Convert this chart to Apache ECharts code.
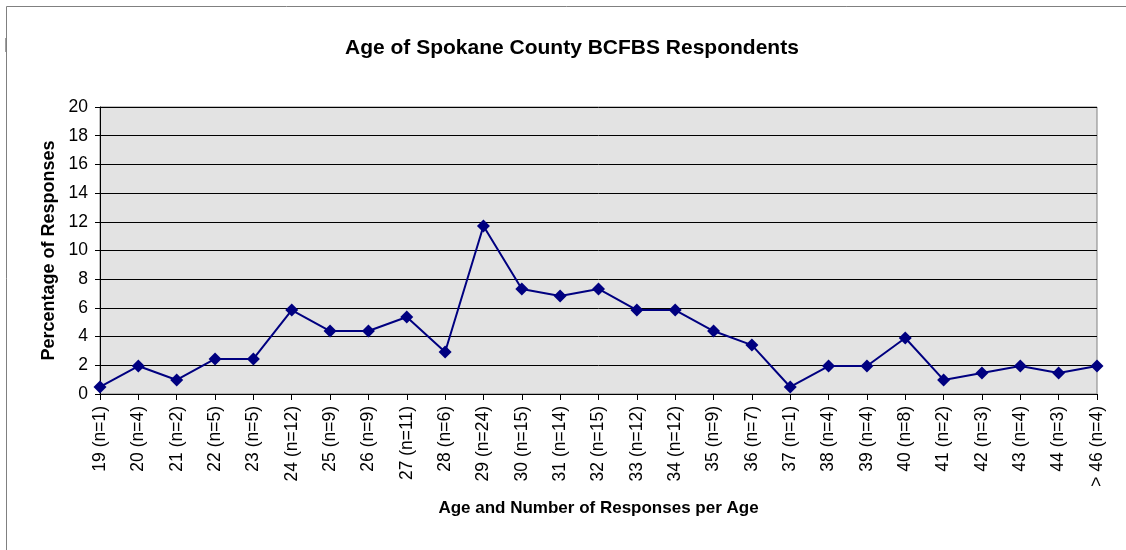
<!DOCTYPE html>
<html><head><meta charset="utf-8">
<script src="https://cdn.jsdelivr.net/npm/echarts@6/dist/echarts.min.js"></script>
<style>html,body{margin:0;padding:0;background:#fff}#c{width:1126px;height:550px}</style>
</head><body><div id="c"></div>
<script>
const categories = ["19 (n=1)","20 (n=4)","21 (n=2)","22 (n=5)","23 (n=5)","24 (n=12)","25 (n=9)","26 (n=9)","27 (n=11)","28 (n=6)","29 (n=24)","30 (n=15)","31 (n=14)","32 (n=15)","33 (n=12)","34 (n=12)","35 (n=9)","36 (n=7)","37 (n=1)","38 (n=4)","39 (n=4)","40 (n=8)","41 (n=2)","42 (n=3)","43 (n=4)","44 (n=3)","> 46 (n=4)"];
const percentages = [0.49,1.95,0.98,2.44,2.44,5.85,4.39,4.39,5.37,2.93,11.71,7.32,6.83,7.32,5.85,5.85,4.39,3.41,0.49,1.95,1.95,3.90,0.98,1.46,1.95,1.46,1.95];
const titleText = "Age of Spokane County BCFBS Respondents";
const xName = "Age and Number of Responses per Age";
const yName = "Percentage of Responses";

const chart = echarts.init(document.getElementById('c'));
const font = "'Liberation Sans', Arial, sans-serif";
chart.setOption({
  animation: false,
  textStyle: {fontFamily: font},
  title: {text: titleText, left: 340, top: 33, textStyle: {fontFamily: font, fontSize: 21, fontWeight: 'bold', color: '#000'}},
  graphic: [
    {type: 'rect', shape: {x: 6.5, y: 6.5, width: 1140, height: 560}, style: {fill: 'none', stroke: '#808080', lineWidth: 1}, z: -10},
    {type: 'line', shape: {x1: 5.5, y1: 38, x2: 5.5, y2: 52}, style: {stroke: '#a0a0a0', lineWidth: 1}, z: -10}
  ],
  grid: {left: 100, right: 29, top: 107, bottom: 156, show: true, backgroundColor: '#e3e3e3', borderColor: '#808080', borderWidth: 1},
  xAxis: {
    type: 'category', data: categories, boundaryGap: false,
    name: xName, nameLocation: 'middle', nameGap: 106,
    nameTextStyle: {fontFamily: font, fontSize: 17, fontWeight: 'bold', color: '#000'},
    axisLine: {lineStyle: {color: '#000', width: 1}},
    axisTick: {show: true, length: 6, lineStyle: {color: '#000'}, alignWithLabel: true},
    axisLabel: {rotate: 90, interval: 0, fontFamily: font, fontSize: 17.5, color: '#000', margin: 12},
    splitLine: {show: false}
  },
  yAxis: {
    type: 'value', min: 0, max: 20, interval: 2,
    name: yName, nameLocation: 'middle', nameGap: 42,
    nameTextStyle: {fontFamily: font, fontSize: 18, fontWeight: 'bold', color: '#000'},
    axisLine: {show: true, lineStyle: {color: '#000', width: 1}},
    axisTick: {show: true, length: 5, lineStyle: {color: '#000'}},
    axisLabel: {fontFamily: font, fontSize: 17.5, color: '#000', margin: 12},
    splitLine: {show: true, lineStyle: {color: '#000', width: 1}}
  },
  series: [{
    type: 'line', data: percentages,
    symbol: 'diamond', symbolSize: 13,
    lineStyle: {color: '#000080', width: 2},
    itemStyle: {color: '#000080'}
  }]
});
</script></body></html>
